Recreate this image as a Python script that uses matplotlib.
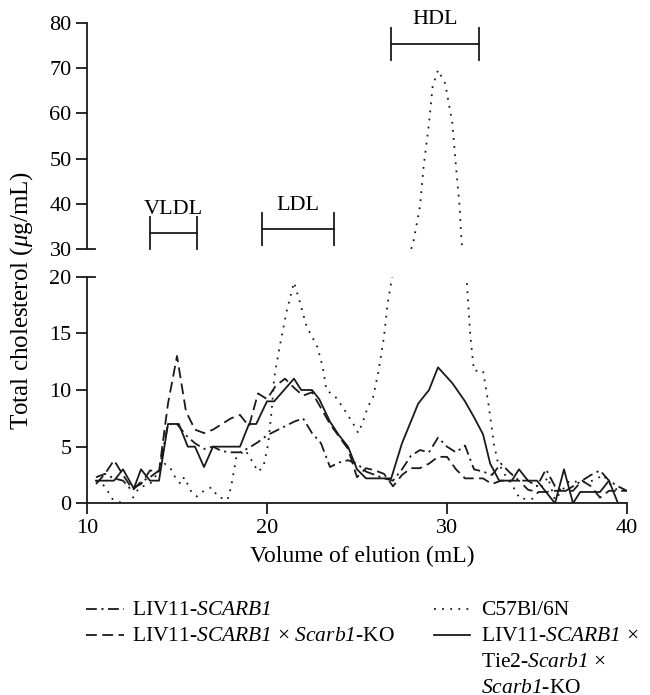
import matplotlib
matplotlib.use('Agg')
import matplotlib.pyplot as plt
from matplotlib.lines import Line2D

plt.rcParams['font.family'] = ['Liberation Serif', 'DejaVu Serif']
# italic gene names (digits included) through mathtext
plt.rcParams['mathtext.fontset'] = 'custom'
plt.rcParams['mathtext.rm'] = 'Liberation Serif:italic'
plt.rcParams['mathtext.it'] = 'Liberation Serif:italic'

# elution volume (mL) and total cholesterol (ug/mL)
liv_x = [10.5, 11.0, 11.5, 12.0, 12.5, 13.0, 13.5, 14.0, 14.5, 15.0, 15.5, 16.0, 16.5, 17.0,
         17.5, 18.0, 18.5, 19.0, 19.5, 20.0, 20.5, 21.0, 21.5, 22.0, 22.5, 23.0, 23.5, 24.0,
         24.5, 25.0, 25.5, 26.0, 26.5, 27.0, 27.5, 28.0, 28.5, 29.0, 29.5, 30.0, 30.5, 31.0,
         31.5, 32.0, 32.5, 33.0, 33.5, 34.0, 34.5, 35.0, 35.5, 36.0, 36.5, 37.0, 37.5, 38.0,
         38.5, 39.0, 39.5, 40.0]
liv_y = [2.3, 2.6, 2.2, 2.0, 1.1, 1.9, 2.3, 2.9, 7.0, 7.0, 6.0, 5.3, 4.8, 5.0,
         4.6, 4.5, 4.5, 4.9, 5.4, 6.0, 6.4, 6.8, 7.2, 7.5, 6.2, 5.3, 3.2, 3.6,
         3.8, 3.5, 2.8, 2.5, 2.2, 2.0, 3.0, 4.2, 4.7, 4.5, 5.8, 5.0, 4.5, 5.1,
         3.0, 2.8, 2.5, 3.5, 2.7, 2.0, 2.0, 1.5, 3.0, 1.5, 1.0, 1.5, 2.0, 2.5,
         2.9, 2.0, 1.5, 1.1]

ko_x = liv_x
ko_y = [1.7, 2.6, 3.8, 2.5, 1.3, 1.7, 2.9, 2.8, 8.8, 13.0, 8.1, 6.5, 6.2, 6.5,
        7.0, 7.5, 7.8, 6.8, 9.7, 9.2, 10.4, 11.0, 10.2, 9.5, 9.8, 8.4, 7.0, 5.9,
        4.8, 2.3, 3.1, 2.9, 2.6, 1.5, 2.5, 3.1, 3.1, 3.5, 4.1, 4.1, 3.0, 2.2,
        2.2, 2.2, 1.7, 2.0, 2.0, 2.0, 1.2, 1.0, 1.0, 1.1, 1.1, 1.1, 2.0, 1.5,
        0.5, 1.1, 1.1, 1.1]

wt_x = [10.5, 11.0, 11.4, 11.8, 12.3, 12.6, 12.9, 13.5, 13.9, 14.3, 14.6, 14.9, 15.2, 15.4,
        15.8, 16.1, 16.4, 16.9, 17.3, 17.8, 18.0, 18.3, 18.8, 19.25, 19.5, 19.8, 20.07, 20.26,
        20.4, 20.7, 21.1, 21.5, 21.8, 22.2, 22.8, 23.1, 23.3, 23.8, 24.2, 24.8, 25.07, 25.35,
        25.6, 25.9, 26.2, 26.5, 26.7, 26.9, 28.1, 28.5, 28.7, 29.0, 29.2, 29.5, 29.9, 30.3,
        30.5, 30.7, 30.8, 31.1, 31.3, 31.5, 32.0, 32.3, 32.6, 32.8, 33.1, 33.7, 34.05, 34.8,
        35.2, 35.6, 36.0, 36.8, 37.2, 37.8, 38.1, 38.7, 38.9, 39.2, 39.6]
wt_y = [2.0, 1.5, 0.4, 0.1, 0.0, 0.6, 1.4, 1.7, 2.6, 3.5, 3.2, 2.3, 1.7, 2.3,
        1.0, 0.6, 1.0, 1.4, 0.55, 0.3, 1.4, 4.1, 4.7, 3.5, 2.8, 3.2, 5.3, 8.2,
        11.1, 13.8, 17.0, 19.5, 17.9, 15.6, 13.8, 12.0, 10.0, 9.4, 8.5, 7.0, 6.2, 7.3,
        8.5, 9.4, 11.7, 14.7, 17.6, 19.5, 30.9, 39.4, 48.2, 57.8, 65.9, 69.6, 66.6, 57.8,
        48.2, 39.4, 32.0, 19.5, 14.7, 11.7, 11.7, 8.8, 5.3, 3.8, 2.8, 1.4, 0.4, 0.4,
        1.3, 2.3, 0.3, 2.0, 1.9, 1.9, 2.0, 2.5, 2.0, 1.4, 1.1]

tie_x = [10.5, 11.5, 12.0, 12.6, 13.0, 13.5, 14.0, 14.5, 15.1, 15.6, 16.0, 16.5, 17.0, 18.5,
         19.0, 19.4, 20.0, 20.4, 21.5, 21.9, 22.5, 22.9, 23.5, 24.0, 24.5, 25.0, 25.5, 26.9,
         27.5, 28.4, 29.0, 29.5, 30.3, 31.0, 31.5, 32.0, 32.4, 32.9, 33.6, 34.0, 34.5, 35.0,
         36.0, 36.5, 37.0, 37.4, 38.5, 39.0, 39.5, 40.0]
tie_y = [2.0, 2.0, 3.0, 1.3, 3.0, 2.0, 2.0, 7.0, 7.0, 5.0, 5.0, 3.2, 5.0, 5.0,
         7.0, 7.0, 9.0, 9.0, 11.0, 10.0, 10.0, 9.2, 7.2, 6.0, 5.0, 3.0, 2.2, 2.2,
         5.3, 8.8, 10.0, 12.0, 10.6, 9.0, 7.6, 6.1, 3.5, 2.0, 2.0, 3.0, 2.0, 2.0,
         0.0, 3.0, 0.0, 1.0, 1.0, 2.0, 0.0, 0.0]

fractions = ['VLDL', 'LDL', 'HDL']
frac_start = [13.5, 19.7, 26.9]
frac_end = [16.1, 23.7, 31.8]
frac_level = [33.5, 34.4, 75.4]

series = [
    (liv_x, liv_y, ['LIV11-$\\mathrm{SCARB1}$'], (0, (6, 2.5, 1.2, 2.5))),
    (ko_x, ko_y, ['LIV11-$\\mathrm{SCARB1}$ × $\\mathrm{Scarb1}$-KO'], (0, (6, 3))),
    (wt_x, wt_y, ['C57Bl/6N'], (0, (1, 3.5))),
    (tie_x, tie_y, ['LIV11-$\\mathrm{SCARB1}$ ×', 'Tie2-$\\mathrm{Scarb1}$ ×',
                    '$\\mathrm{Scarb1}$-KO'], '-'),
]

ink = '#1a1a1a'
fs = 16
W, H = 650, 695

fig = plt.figure(figsize=(6.5, 6.95), dpi=100)
ax_top = fig.add_axes([87 / W, 446 / H, 540 / W, 226 / H])
ax_bot = fig.add_axes([87 / W, 191.7 / H, 540 / W, 226.6 / H])

for ax in (ax_top, ax_bot):
    for x, y, label, ls in series:
        ax.plot(x, y, color=ink, lw=1.3, linestyle=ls)
    ax.set_xlim(10, 40)
    ax.spines['top'].set_visible(False)
    ax.spines['right'].set_visible(False)
    for s in ('left', 'bottom'):
        ax.spines[s].set_linewidth(1.3)
        ax.spines[s].set_color(ink)
    ax.tick_params(length=8, width=1.3, labelsize=fs, color=ink, pad=3)

ax_top.set_ylim(30, 80)
ax_top.set_yticks(range(30, 81, 10))
ax_top.spines['bottom'].set_visible(False)
ax_top.tick_params(axis='x', bottom=False, labelbottom=False)

ax_bot.set_ylim(0, 20)
ax_bot.set_yticks(range(0, 21, 5))
ax_bot.set_xticks([10, 20, 30, 40])

# break marks: the ticks next to the gap cross the spine
for ax, yy in ((ax_top, 0), (ax_bot, 1)):
    ax.plot([0, 8 / 540], [yy, yy], transform=ax.transAxes, color=ink, lw=1.3, clip_on=False)

# lipoprotein fraction brackets
for name, x0, x1, lev in zip(fractions, frac_start, frac_end, frac_level):
    cap = 3.5
    ax_top.plot([x0, x1], [lev, lev], color=ink, lw=1.3)
    ax_top.plot([x0, x0], [lev - cap, lev + cap], color=ink, lw=1.3, clip_on=False)
    ax_top.plot([x1, x1], [lev - cap, lev + cap], color=ink, lw=1.3, clip_on=False)
    ax_top.text((x0 + x1) / 2, lev + cap + 0.8, name, ha='center', va='baseline', fontsize=fs)

fig.text(362 / W, 1 - 556 / H, 'Volume of elution (mL)', ha='center', va='center', fontsize=17)
fig.text(22 / W, 1 - 300 / H, 'Total cholesterol ($\\mu$g/mL)', rotation=90,
         ha='center', va='center', fontsize=18)

# legend, two columns, drawn by hand so the long entry can wrap
rows = [609, 635, 661, 687]
cols = [(86, 124, 132), (434, 470, 481)]
slots = [(0, 0), (0, 1), (1, 0), (1, 1)]
for (x, y, lines, ls), (c, r) in zip(series, slots):
    hx0, hx1, tx = cols[c]
    fig.add_artist(Line2D([hx0 / W, hx1 / W], [1 - rows[r] / H] * 2, color=ink, lw=1.3,
                          linestyle=ls, transform=fig.transFigure))
    for i, line in enumerate(lines):
        fig.text(tx / W, 1 - (rows[r + i] + 6) / H, line, ha='left', va='baseline', fontsize=15.5)

plt.savefig('out.png', dpi=100)
